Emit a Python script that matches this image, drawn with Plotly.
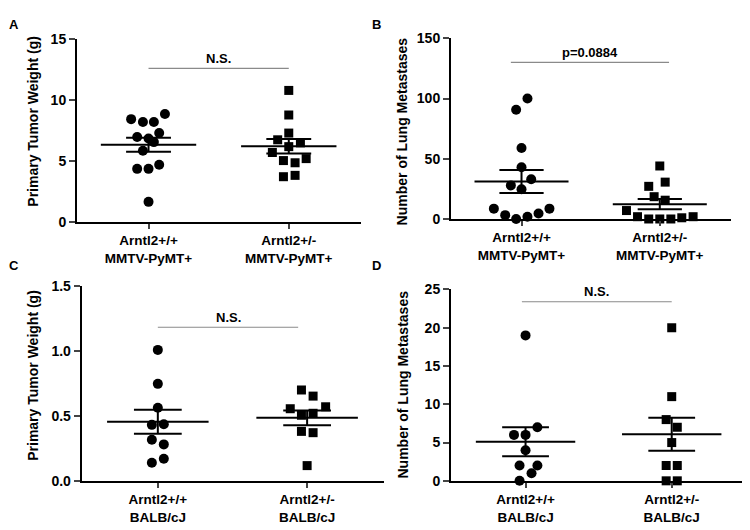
import plotly.graph_objects as go

# ---------------- data ----------------
cat_A = ["Arntl2+/+<br>MMTV-PyMT+", "Arntl2+/-<br>MMTV-PyMT+"]
cat_C = ["Arntl2+/+<br>BALB/cJ", "Arntl2+/-<br>BALB/cJ"]

# Panel A: primary tumor weight (g), MMTV-PyMT
A_wt = [8.44, 8.2, 8.2, 8.86, 6.98, 6.85, 7.3, 6.56, 5.85, 4.37, 4.37, 4.71, 1.67]
A_wt_off = [-0.124, -0.04, 0.038, 0.117, -0.081, 0.0, 0.076, 0.038, -0.04, -0.081, 0.0, 0.076, 0.0]
A_het = [10.79, 8.78, 7.3, 6.75, 6.5, 6.19, 5.71, 5.05, 4.87, 5.21, 3.73, 3.84]
A_het_off = [0.0, 0.0, 0.0, -0.079, 0.083, 0.0, -0.117, -0.038, 0.045, 0.124, -0.038, 0.045]
A_mean = [6.35, 6.22]
A_sem = [0.57, 0.585]

# Panel B: lung metastases, MMTV-PyMT
B_wt = [100, 90.7, 59, 42.9, 33, 27.9, 24.7, 8.6, 8.6, 3.2, 4.6, 1.9, 0]
B_wt_off = [0.043, -0.039, 0.0, 0.0, 0.07, -0.077, 0.0, -0.2, 0.202, -0.118, 0.123, 0.043, -0.039]
B_het = [44, 30.6, 27.1, 18.5, 15.6, 7, 1.9, 0, 0, 0, 1, 1.9]
B_het_off = [0.0, 0.039, -0.08, -0.041, 0.039, -0.241, -0.161, -0.08, 0.0, 0.08, 0.159, 0.241]
B_mean = [31.1, 12.3]
B_sem = [9.55, 4.3]

# Panel C: primary tumor weight (g), BALB/cJ
C_wt = [1.006, 0.745, 0.561, 0.43, 0.435, 0.315, 0.28, 0.139, 0.169]
C_wt_off = [0.0, 0.0, 0.0, -0.04, 0.04, -0.04, 0.04, -0.04, 0.04]
C_het = [0.698, 0.651, 0.554, 0.569, 0.504, 0.519, 0.38, 0.37, 0.117]
C_het_off = [-0.038, 0.04, -0.113, 0.124, -0.038, 0.04, -0.038, 0.04, 0.0]
C_mean = [0.454, 0.484]
C_sem = [0.093, 0.056]

# Panel D: lung metastases, BALB/cJ
D_wt = [19, 6, 6, 7, 4, 2, 2, 1, 0]
D_wt_off = [0.0, -0.079, 0.0, 0.081, 0.0, -0.041, 0.081, 0.041, -0.041]
D_het = [20, 11, 8, 7, 5, 2, 2, 0, 0]
D_het_off = [0.0, 0.0, -0.038, 0.038, 0.0, -0.038, 0.038, -0.038, 0.038]
D_mean = [5.1, 6.08]
D_sem = [1.9, 2.15]

y_titles = ["Primary Tumor Weight (g)", "Number of Lung Metastases",
            "Primary Tumor Weight (g)", "Number of Lung Metastases"]
y_ranges = [[0, 15], [0, 150], [0, 1.5], [0, 25]]
y_ticks = [[0, 5, 10, 15], [0, 50, 100, 150], [0, 0.5, 1.0, 1.5], [0, 5, 10, 15, 20, 25]]
y_ticktext = [["0", "5", "10", "15"], ["0", "50", "100", "150"],
              ["0.0", "0.5", "1.0", "1.5"], ["0", "5", "10", "15", "20", "25"]]
stat_text = ["N.S.", "p=0.0884", "N.S.", "N.S."]
stat_y = [12.6, 130, 1.18, 23.4]
stat_x = [[0.0, 1.0], [-0.077, 1.067], [0.0, 0.94], [-0.025, 1.0]]
panel_letters = ["A", "B", "C", "D"]

# ---------------- layout geometry (pixels in the final picture) ----------------
W, H = 750, 530
OFF = 8  # page body margin shifts the figure by 8px right/down
# (left, right, top, bottom) of each plot area in pixels
boxes = [(77, 361, 31.7, 220.7), (451, 731, 31, 217.3),
         (81.7, 384, 286, 487.3), (451, 747, 290, 487.3)]
ytitle_pos = [(33, 117), (402, 127), (33, 379), (403, 388)]
# (x, y, xanchor, yanchor) for panel letters
letter_pos = [(8, 8, "left", "top"), (376, 8, "center", "top"),
              (8, 265, "left", "middle"), (376, 265, "center", "middle")]


def px(x):
    return (x - OFF) / W


def py(y):
    return 1 - (y - OFF) / H


FONT = "Liberation Sans, Arial, sans-serif"

panels = [
    (A_wt, A_wt_off, A_het, A_het_off, A_mean, A_sem, cat_A),
    (B_wt, B_wt_off, B_het, B_het_off, B_mean, B_sem, cat_A),
    (C_wt, C_wt_off, C_het, C_het_off, C_mean, C_sem, cat_C),
    (D_wt, D_wt_off, D_het, D_het_off, D_mean, D_sem, cat_C),
]

fig = go.Figure()
layout = dict(width=W, height=H, margin=dict(l=0, r=0, t=0, b=0),
              paper_bgcolor="white", plot_bgcolor="white", showlegend=False,
              font=dict(family=FONT, color="black"))
annotations = []

for i, (wt, wto, het, heto, mean, sem, cats) in enumerate(panels):
    n = "" if i == 0 else str(i + 1)
    xa, ya = "x" + n, "y" + n
    l, r, t, b = boxes[i]
    layout["xaxis" + n] = dict(
        domain=[px(l), px(r)], anchor=ya, range=[-0.51, 1.515],
        tickvals=[0, 1], ticktext=cats, ticks="outside", ticklen=5, tickwidth=2,
        showline=True, linewidth=2, linecolor="black", showgrid=False, zeroline=False,
        tickfont=dict(size=13.5, family=FONT, weight="bold", color="black"), fixedrange=True)
    layout["yaxis" + n] = dict(
        domain=[py(b), py(t)], anchor=xa, range=y_ranges[i],
        tickvals=y_ticks[i], ticktext=y_ticktext[i], ticks="outside", ticklen=6, tickwidth=2,
        showline=True, linewidth=2, linecolor="black", showgrid=False, zeroline=False,
        tickfont=dict(size=14, family=FONT, weight="bold", color="black"), fixedrange=True)

    # points
    fig.add_trace(go.Scatter(x=[0 + o for o in wto], y=wt, mode="markers", xaxis=xa, yaxis=ya,
                             marker=dict(symbol="circle", size=10, color="black"), cliponaxis=False))
    fig.add_trace(go.Scatter(x=[1 + o for o in heto], y=het, mode="markers", xaxis=xa, yaxis=ya,
                             marker=dict(symbol="square", size=9, color="black"), cliponaxis=False))
    # mean and SEM
    for g in range(2):
        m, s = mean[g], sem[g]
        fig.add_trace(go.Scatter(x=[g - 0.34, g + 0.34], y=[m, m], mode="lines", xaxis=xa, yaxis=ya,
                                 line=dict(color="black", width=2), cliponaxis=False))
        for v in (m - s, m + s):
            fig.add_trace(go.Scatter(x=[g - 0.16, g + 0.16], y=[v, v], mode="lines", xaxis=xa, yaxis=ya,
                                     line=dict(color="black", width=2), cliponaxis=False))
        fig.add_trace(go.Scatter(x=[g, g], y=[m - s, m + s], mode="lines", xaxis=xa, yaxis=ya,
                                 line=dict(color="black", width=2), cliponaxis=False))
    # significance bar
    fig.add_trace(go.Scatter(x=stat_x[i], y=[stat_y[i], stat_y[i]], mode="lines", xaxis=xa, yaxis=ya,
                             line=dict(color="#8a8a8a", width=1.2), cliponaxis=False))
    annotations.append(dict(x=(stat_x[i][0] + stat_x[i][1]) / 2, y=stat_y[i], xref=xa, yref=ya,
                            text=stat_text[i], showarrow=False, yshift=10,
                            font=dict(size=13, family=FONT, weight="bold", color="black")))
    # y title
    tx, ty = ytitle_pos[i]
    annotations.append(dict(x=px(tx), y=py(ty), xref="paper", yref="paper", text=y_titles[i],
                            textangle=-90, showarrow=False, xanchor="center", yanchor="middle",
                            font=dict(size=14, family=FONT, weight="bold", color="black")))
    # panel letter
    lx, ly, xan, yan = letter_pos[i]
    annotations.append(dict(x=px(lx), y=py(ly), xref="paper", yref="paper", text=panel_letters[i],
                            showarrow=False, xanchor=xan, yanchor=yan, borderpad=0,
                            font=dict(size=13, family=FONT, weight="bold", color="black")))

layout["annotations"] = annotations
fig.update_layout(**layout)
fig.write_html("out.html")
